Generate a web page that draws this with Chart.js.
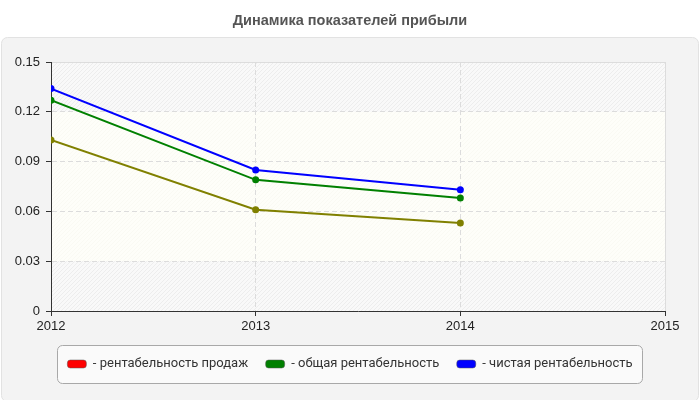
<!DOCTYPE html>
<html>
<head>
<meta charset="utf-8">
<script src="https://cdn.jsdelivr.net/npm/chart.js@4.4.1/dist/chart.umd.min.js"></script>
<style>
  html, body { margin: 0; padding: 0; background: #fff; }
  #wrap { width: 700px; height: 400px; }
</style>
</head>
<body>
<div id="wrap"><canvas id="chart"></canvas></div>
<script>
var years = [2012, 2013, 2014];
var seriesNames = ["- рентабельность продаж", "- общая рентабельность", "- чистая рентабельность"];
var salesMargin = [0.103, 0.061, 0.053];
var totalMargin = [0.127, 0.079, 0.068];
var netMargin = [0.134, 0.085, 0.073];
var xRange = [2012, 2015];
var yRange = [0, 0.15];
var yStep = 0.03;
var highlightBand = [0.03, 0.12];
var lineColors = ["#808000", "#008000", "#0000ff"];
var legendColors = ["#ff0000", "#008000", "#0000ff"];

function makeHatch(ctx, base, stripe) {
  var c = document.createElement("canvas");
  c.width = 4;
  c.height = 4;
  var g = c.getContext("2d");
  g.fillStyle = base;
  g.fillRect(0, 0, 4, 4);
  g.fillStyle = stripe;
  for (var i = 0; i < 4; i++) g.fillRect(i, 3 - i, 1, 1);
  return ctx.createPattern(c, "repeat");
}

// panel, hatched plot area, light band and legend frame
var backdrop = {
  id: "backdrop",
  beforeDraw: function (chart) {
    var ctx = chart.ctx, a = chart.chartArea, y = chart.scales.y;
    ctx.save();
    ctx.fillStyle = "#fff";
    ctx.fillRect(0, 0, chart.width, chart.height);
    ctx.beginPath();
    ctx.roundRect(1.5, 37.5, chart.width - 3, chart.height - 36, 6);
    ctx.fillStyle = "#f3f3f3";
    ctx.fill();
    ctx.strokeStyle = "#e2e2e2";
    ctx.lineWidth = 1;
    ctx.stroke();

    ctx.fillStyle = makeHatch(ctx, "#f9f9f9", "#ededed");
    ctx.fillRect(a.left, a.top, a.right - a.left, a.bottom - a.top);
    var yTop = y.getPixelForValue(highlightBand[1]);
    var yBot = y.getPixelForValue(highlightBand[0]);
    ctx.fillStyle = makeHatch(ctx, "#fefef9", "#fafaf3");
    ctx.fillRect(a.left, yTop, a.right - a.left, yBot - yTop);

    ctx.strokeStyle = "#dddddd";
    ctx.beginPath();
    ctx.moveTo(a.left, a.top + 0.5);
    ctx.lineTo(a.right + 0.5, a.top + 0.5);
    ctx.lineTo(a.right + 0.5, a.bottom);
    ctx.stroke();

    var boxes = chart.legend.legendHitBoxes;
    if (boxes && boxes.length) {
      var left = Math.min.apply(null, boxes.map(function (b) { return b.left; }));
      var right = Math.max.apply(null, boxes.map(function (b) { return b.left + b.width; }));
      var top = boxes[0].top;
      ctx.beginPath();
      ctx.roundRect(Math.round(left - 10) + 0.5, Math.round(top - 13) + 0.5, Math.round(right - left + 20), 38, 5);
      ctx.fillStyle = "#fafafa";
      ctx.fill();
      ctx.strokeStyle = "#a8a8a8";
      ctx.stroke();
    }
    ctx.restore();
  }
};

var seriesData = [salesMargin, totalMargin, netMargin];

function makeDataset(i) {
  return {
    label: seriesNames[i],
    data: years.map(function (yr, k) { return { x: yr, y: seriesData[i][k] }; }),
    borderColor: lineColors[i],
    backgroundColor: lineColors[i],
    pointBackgroundColor: lineColors[i],
    pointBorderColor: lineColors[i],
    borderWidth: 2,
    pointRadius: 3.5,
    pointBorderWidth: 0,
    tension: 0
  };
}

var tickFont = { family: "'Liberation Sans', Arial, sans-serif", size: 13 };

new Chart(document.getElementById("chart"), {
  type: "line",
  data: { datasets: [0, 1, 2].map(makeDataset) },
  plugins: [backdrop],
  options: {
    responsive: true,
    maintainAspectRatio: false,
    animation: false,
    layout: { padding: { top: 0, left: 0, right: 0, bottom: 19.5 } },
    plugins: {
      title: {
        display: true,
        text: "Динамика показателей прибыли",
        color: "#555555",
        font: { family: "'Liberation Sans', Arial, sans-serif", size: 14.5, weight: "bold" },
        padding: { top: 12, bottom: 32.6 }
      },
      legend: {
        position: "bottom",
        labels: {
          color: "#333333",
          font: { family: "Roboto, sans-serif", size: 13 },
          boxWidth: 19,
          boxHeight: 8,
          padding: 17.5,
          useBorderRadius: true,
          borderRadius: 3,
          generateLabels: function (chart) {
            return chart.data.datasets.map(function (ds, i) {
              return {
                text: ds.label,
                fillStyle: legendColors[i],
                strokeStyle: "#555555",
                lineWidth: 0.5,
                borderRadius: 3,
                fontColor: "#333333",
                datasetIndex: i,
                hidden: false
              };
            });
          }
        }
      },
      tooltip: { enabled: false }
    },
    scales: {
      x: {
        type: "linear",
        min: xRange[0],
        max: xRange[1],
        afterFit: function (s) { s.height = 29; },
        ticks: {
          stepSize: 1,
          color: "#222222",
          padding: 3,
          font: tickFont,
          callback: function (v) { return String(v); }
        },
        grid: {
          color: "#dcdcdc",
          tickLength: 5,
          tickColor: "#333333",
          tickBorderDash: []
        },
        border: { display: true, color: "#333333", width: 1, dash: [5, 3] }
      },
      y: {
        min: yRange[0],
        max: yRange[1],
        afterFit: function (s) { s.width = 51; },
        ticks: {
          stepSize: yStep,
          color: "#222222",
          padding: 6,
          font: tickFont,
          callback: function (v) { return String(+v.toFixed(2)); }
        },
        grid: {
          color: "#dcdcdc",
          tickLength: 5,
          tickColor: "#333333",
          tickBorderDash: []
        },
        border: { display: true, color: "#333333", width: 1, dash: [5, 3] }
      },
      // empty right gutter so the plot ends where the reference does
      gutter: {
        type: "linear",
        position: "right",
        min: 0,
        max: 1,
        afterFit: function (s) { s.width = 35; },
        ticks: { display: false },
        grid: { display: false, drawTicks: false },
        border: { display: false }
      }
    }
  }
});
</script>
</body>
</html>
